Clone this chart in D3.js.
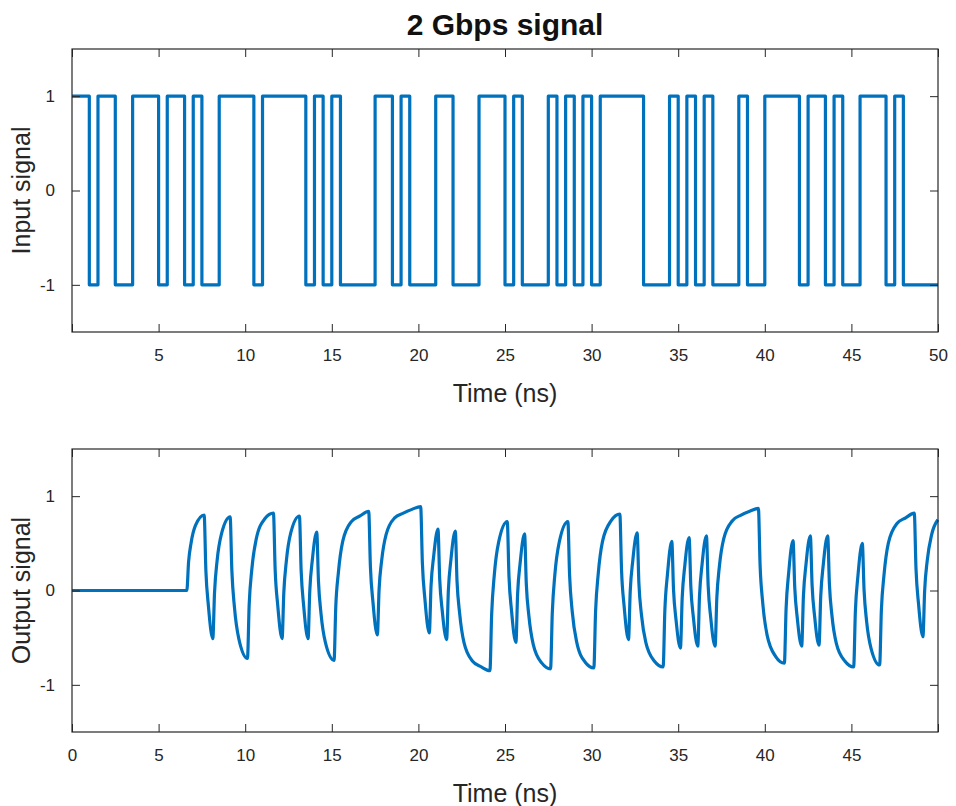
<!DOCTYPE html>
<html>
<head>
<meta charset="utf-8">
<script src="https://cdn.jsdelivr.net/npm/d3@7/dist/d3.min.js"></script>
<style>
  html, body { margin: 0; padding: 0; background: #ffffff; }
  svg { display: block; }
  text { font-family: "Liberation Sans", Arial, Helvetica, sans-serif; fill: #262626; }
</style>
</head>
<body>
<svg id="chart" width="956" height="806"></svg>
<script>
// ---------------- data ----------------
const chartTitle = "2 Gbps signal";
const bitPeriod = 0.5; // ns (2 Gbps)
// input bit stream (1 -> +1, 0 -> -1), 100 bits over 50 ns
const inputBits = [
  1,1,0,1,1,0,0,1,1,1,
  0,1,1,0,1,0,0,1,1,1,
  1,0,1,1,1,1,1,0,1,0,
  1,0,0,0,0,1,1,0,1,0,
  0,0,1,1,0,0,0,1,1,1,
  0,1,0,0,0,1,0,1,0,1,
  0,1,1,1,1,1,0,0,0,1,
  0,1,0,1,0,0,0,1,0,0,
  1,1,1,1,0,1,1,0,1,0,
  0,1,1,1,0,1,0,0,0,0
];
// output signal, [time ns, value]
const outputPoints = [
  [0,0],[6.63,0],
  [6.73,0.30],[6.88,0.51],[7.13,0.69],[7.63,0.80],
  [7.73,0.21],[7.88,-0.17],[8.13,-0.51],
  [8.23,-0.02],[8.38,0.32],[8.63,0.60],[9.13,0.78],
  [9.23,0.21],[9.38,-0.18],[9.63,-0.51],[10.13,-0.72],
  [10.23,-0.15],[10.38,0.22],[10.63,0.54],[11.13,0.76],[11.63,0.82],
  [11.73,0.22],[11.88,-0.16],[12.13,-0.51],
  [12.23,-0.02],[12.38,0.32],[12.63,0.61],[13.13,0.79],
  [13.23,0.21],[13.38,-0.17],[13.63,-0.51],
  [13.73,0.00],[13.88,0.33],[14.13,0.62],
  [14.23,0.10],[14.38,-0.25],[14.63,-0.55],[15.13,-0.74],
  [15.23,-0.17],[15.38,0.19],[15.63,0.52],[16.13,0.73],[16.63,0.79],[17.13,0.84],
  [17.23,0.25],[17.38,-0.13],[17.63,-0.47],
  [17.73,0.01],[17.88,0.32],[18.13,0.59],[18.63,0.77],[19.13,0.82],[19.63,0.86],[20.13,0.89],
  [20.23,0.29],[20.38,-0.10],[20.63,-0.45],
  [20.73,0.05],[20.88,0.36],[21.13,0.65],
  [21.23,0.12],[21.38,-0.22],[21.63,-0.52],
  [21.73,0.00],[21.88,0.33],[22.13,0.63],
  [22.23,0.10],[22.38,-0.24],[22.63,-0.55],[23.13,-0.75],[23.63,-0.81],[24.13,-0.85],
  [24.23,-0.25],[24.38,0.16],[24.63,0.51],[25.13,0.73],
  [25.23,0.15],[25.38,-0.22],[25.63,-0.55],
  [25.73,-0.03],[25.88,0.30],[26.13,0.60],
  [26.23,0.07],[26.38,-0.27],[26.63,-0.57],[27.13,-0.77],[27.63,-0.83],
  [27.73,-0.24],[27.88,0.17],[28.13,0.51],[28.63,0.73],
  [28.73,0.16],[28.88,-0.22],[29.13,-0.54],[29.63,-0.76],[30.13,-0.82],
  [30.23,-0.22],[30.38,0.17],[30.63,0.52],[31.13,0.74],[31.63,0.81],
  [31.73,0.21],[31.88,-0.17],[32.13,-0.52],
  [32.23,-0.01],[32.38,0.32],[32.63,0.61],
  [32.73,0.08],[32.88,-0.26],[33.13,-0.55],[33.63,-0.75],[34.13,-0.81],
  [34.23,-0.21],[34.38,0.17],[34.63,0.52],
  [34.73,0.01],[34.88,-0.32],[35.13,-0.61],
  [35.23,-0.08],[35.38,0.26],[35.63,0.56],
  [35.73,0.04],[35.88,-0.29],[36.13,-0.59],
  [36.23,-0.06],[36.38,0.28],[36.63,0.58],
  [36.73,0.05],[36.88,-0.29],[37.13,-0.59],
  [37.23,-0.08],[37.38,0.26],[37.63,0.55],[38.13,0.74],[38.63,0.80],[39.13,0.84],[39.63,0.87],
  [39.73,0.26],[39.88,-0.13],[40.13,-0.47],[40.63,-0.70],[41.13,-0.77],
  [41.23,-0.19],[41.38,0.19],[41.63,0.53],
  [41.73,0.03],[41.88,-0.30],[42.13,-0.59],
  [42.23,-0.06],[42.38,0.28],[42.63,0.58],
  [42.73,0.06],[42.88,-0.28],[43.13,-0.58],
  [43.23,-0.06],[43.38,0.28],[43.63,0.58],
  [43.73,0.07],[43.88,-0.27],[44.13,-0.56],[44.63,-0.75],[45.13,-0.81],
  [45.23,-0.22],[45.38,0.16],[45.63,0.50],
  [45.73,0.01],[45.88,-0.33],[46.13,-0.61],[46.63,-0.79],
  [46.73,-0.21],[46.88,0.16],[47.13,0.50],[47.63,0.71],[48.13,0.77],[48.63,0.82],
  [48.73,0.23],[48.88,-0.15],[49.13,-0.49],
  [49.23,0.00],[49.38,0.32],[49.63,0.59],[49.99,0.75]
];
// axes
const timeDomain = [0, 50];
const yDomain = [-1.5, 1.5];
const yTicks = [-1, 0, 1];
const topXTicks = [5, 10, 15, 20, 25, 30, 35, 40, 45, 50];
const bottomXTicks = [0, 5, 10, 15, 20, 25, 30, 35, 40, 45];
const allXTicks = [0, 5, 10, 15, 20, 25, 30, 35, 40, 45, 50];
const xLabel = "Time (ns)";
const topYLabel = "Input signal";
const bottomYLabel = "Output signal";

// ---------------- drawing ----------------
const svg = d3.select("#chart");
const lineColor = "#0072BD";
const axisColor = "#262626";
const left = 72, right = 938;
const fontFam = '"Liberation Sans", Arial, Helvetica, sans-serif';

const inputSeries = inputBits.map((b, k) => [k * bitPeriod, b ? 1 : -1]);
inputSeries.push([timeDomain[1], inputBits[inputBits.length - 1] ? 1 : -1]);

function panel(top, bottom, series, curve, xLabelTicks, yLab) {
  const x = d3.scaleLinear().domain(timeDomain).range([left, right]);
  const y = d3.scaleLinear().domain(yDomain).range([bottom, top]);
  const g = svg.append("g");
  const tickLen = 8;

  const line = d3.line().x(d => x(d[0])).y(d => y(d[1])).curve(curve);
  g.append("path").datum(series)
    .attr("d", line)
    .attr("fill", "none")
    .attr("stroke", lineColor)
    .attr("stroke-width", 3.2)
    .attr("stroke-linejoin", "round")
    .attr("stroke-linecap", "butt");

  const xb = d3.axisBottom(x).tickValues(allXTicks).tickSizeInner(-tickLen).tickSizeOuter(0)
    .tickFormat(d => xLabelTicks.includes(d) ? String(d) : "").tickPadding(17);
  const xt = d3.axisTop(x).tickValues(allXTicks).tickSizeInner(-tickLen).tickSizeOuter(0).tickFormat("");
  const yl = d3.axisLeft(y).tickValues(yTicks).tickSizeInner(-tickLen).tickSizeOuter(0)
    .tickFormat(d => String(d)).tickPadding(17);
  const yr = d3.axisRight(y).tickValues(yTicks).tickSizeInner(-tickLen).tickSizeOuter(0).tickFormat("");

  const axes = [
    g.append("g").attr("transform", `translate(0,${bottom})`).call(xb),
    g.append("g").attr("transform", `translate(0,${top})`).call(xt),
    g.append("g").attr("transform", `translate(${left},0)`).call(yl),
    g.append("g").attr("transform", `translate(${right},0)`).call(yr)
  ];
  axes.forEach(a => {
    a.select(".domain").remove();
    a.selectAll("line").attr("stroke", axisColor).attr("stroke-width", 1);
    a.selectAll("text").attr("fill", axisColor)
      .style("font-family", fontFam)
      .style("font-size", "17px");
  });

  g.append("rect")
    .attr("x", left).attr("y", top)
    .attr("width", right - left).attr("height", bottom - top)
    .attr("fill", "none").attr("stroke", axisColor).attr("stroke-width", 1.2);

  g.append("text")
    .attr("x", (left + right) / 2).attr("y", bottom + 70)
    .attr("text-anchor", "middle")
    .style("font-size", "25px")
    .text(xLabel);
  g.append("text")
    .attr("transform", `translate(30,${(top + bottom) / 2}) rotate(-90)`)
    .attr("text-anchor", "middle")
    .style("font-size", "25px")
    .text(yLab);
  return { x, y };
}

panel(49, 332, inputSeries, d3.curveStepAfter, topXTicks, topYLabel);
panel(449, 732, outputPoints, d3.curveMonotoneX, bottomXTicks, bottomYLabel);

svg.append("text")
  .attr("x", (left + right) / 2).attr("y", 35)
  .attr("text-anchor", "middle")
  .style("font-size", "30px")
  .style("font-weight", "bold")
  .style("fill", "#111")
  .text(chartTitle);
</script>
</body>
</html>
